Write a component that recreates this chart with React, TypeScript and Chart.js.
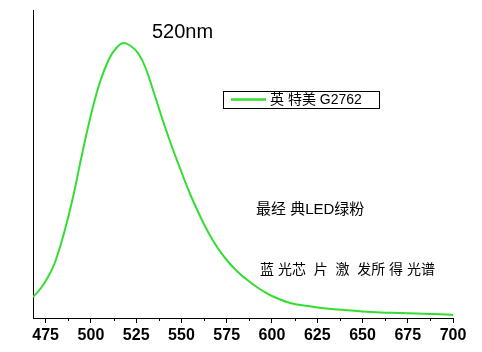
import React, { useEffect, useRef } from "react";
import { Chart, registerables } from "chart.js";

Chart.register(...registerables);

const wavelengths = [468, 472, 476, 480, 485, 490, 495, 500, 505, 510, 514, 518, 522, 526, 530, 535, 540, 545, 550, 555, 560, 565, 570, 575, 580, 585, 590, 595, 600, 610, 620, 630, 640, 650, 660, 670, 680, 690, 700];
const intensity = [21, 29, 40, 55, 84, 120, 163, 203, 236, 259, 270, 275, 272, 265, 251, 224, 196, 170, 146, 123, 103, 85, 70, 58, 48, 40, 33, 27, 22, 15, 12, 9.5, 8, 6.5, 5.5, 5, 4.5, 4, 3];
const majorTicks = [475, 500, 525, 550, 575, 600, 625, 650, 675, 700];
const minorTicks = [487.5, 512.5, 537.5, 562.5, 587.5, 612.5, 637.5, 662.5, 687.5];
const seriesLabel = "英 特美 G2762";
const peakLabel = "520nm";
const note1 = "最经 典LED绿粉";
const note2 = "蓝 光芯  片  激  发所 得 光谱";

const GREEN = "rgb(51, 221, 51)";
const FONT = "'Liberation Sans', 'Noto Sans CJK SC', Arial, sans-serif";

const textPlugin = {
  id: "texts",
  afterDraw(chart: any) {
    const ctx = chart.ctx;
    const xs = chart.scales.x;
    ctx.save();
    ctx.strokeStyle = "#000";
    ctx.lineWidth = 1;
    const b = chart.chartArea.bottom;
    for (const v of minorTicks) {
      const px = Math.round(xs.getPixelForValue(v)) + 0.5;
      ctx.beginPath();
      ctx.moveTo(px, b);
      ctx.lineTo(px, b + 3);
      ctx.stroke();
    }
    ctx.fillStyle = "#000";
    ctx.textBaseline = "middle";
    ctx.textAlign = "left";
    ctx.font = "20px " + FONT;
    ctx.fillText(peakLabel, 152, 32);
    ctx.lineWidth = 1;
    ctx.strokeStyle = "#000";
    ctx.strokeRect(223.5, 91.5, 156, 17);
    ctx.strokeStyle = chart.data.datasets[0].borderColor;
    ctx.lineWidth = 2.5;
    ctx.beginPath();
    ctx.moveTo(231, 99.5);
    ctx.lineTo(266, 99.5);
    ctx.stroke();
    ctx.font = "14px " + FONT;
    ctx.fillText(chart.data.datasets[0].label, 270, 100);
    ctx.font = "15px " + FONT;
    ctx.fillText(note1, 256, 210);
    ctx.font = "14px " + FONT;
    ctx.fillText(note2, 260, 270);
    ctx.restore();
  },
};

export default function App() {
  const ref = useRef<HTMLCanvasElement | null>(null);
  useEffect(() => {
    if (!ref.current) return;
    const chart = new Chart(ref.current, {
      type: "line",
      data: {
        datasets: [
          {
            label: seriesLabel,
            data: wavelengths.map((w, i) => ({ x: w, y: intensity[i] })),
            borderColor: GREEN,
            backgroundColor: GREEN,
            borderWidth: 2,
            pointRadius: 0,
            tension: 0.4,
            fill: false,
          },
        ],
      },
      options: {
        animation: false,
        responsive: true,
        maintainAspectRatio: false,
        layout: { padding: { left: 33, right: 29, top: 10, bottom: 0 } },
        plugins: { legend: { display: false }, tooltip: { enabled: false } },
        scales: {
          x: {
            type: "linear",
            min: 468,
            max: 700,
            afterBuildTicks: (scale: any) => {
              scale.ticks = majorTicks.map((v) => ({ value: v }));
            },
            afterFit: (scale: any) => {
              scale.height = 34;
            },
            ticks: {
              autoSkip: false,
              maxRotation: 0,
              padding: 3,
              color: "#000",
              font: { family: FONT, size: 16, weight: "bold" },
              callback: (v: any) => String(v),
            },
            grid: { display: true, drawOnChartArea: false, drawTicks: true, tickLength: 5, color: "#000" },
            border: { display: true, color: "#000", width: 1 },
          },
          y: {
            min: 0,
            max: 308,
            ticks: { display: false },
            grid: { display: false },
            border: { display: true, color: "#000", width: 1 },
            afterFit: (scale: any) => {
              scale.width = 0;
            },
          },
        },
      },
      plugins: [textPlugin],
    } as any);
    return () => chart.destroy();
  }, []);
  return (
    <div style={{ position: "absolute", left: 0, top: 0, width: 482, height: 352, background: "#fff" }}>
      <canvas ref={ref} />
    </div>
  );
}
